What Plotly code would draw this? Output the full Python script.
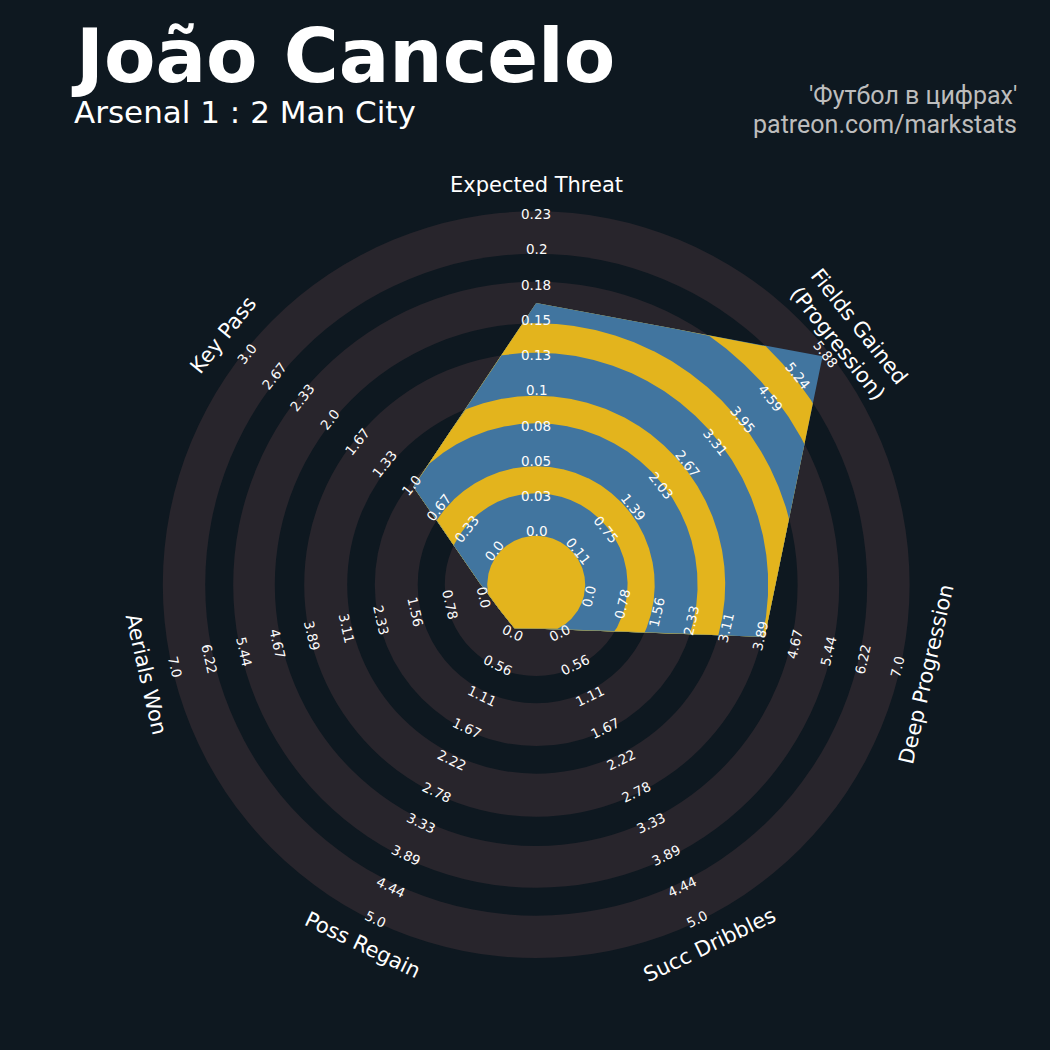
import numpy as np
import plotly.graph_objects as go

# ---------------- data ----------------
params = ["Expected Threat", "Fields Gained<br>(Progression)", "Deep Progression",
          "Succ Dribbles", "Poss Regain", "Aerials Won", "Key Pass"]
values = [0.165, 5.75, 4.0, 0.0, 0.0, 0.0, 1.0]
min_range = [0.0, 0.106, 0.0, 0.0, 0.0, 0.0, 0.0]
max_range = [0.23, 5.877, 7.0, 5.0, 5.0, 7.0, 3.0]

xt_ticks = ["0.0", "0.03", "0.05", "0.08", "0.1", "0.13", "0.15", "0.18", "0.2", "0.23"]
fg_ticks = ["0.11", "0.75", "1.39", "2.03", "2.67", "3.31", "3.95", "4.59", "5.24", "5.88"]
dp_ticks = ["0.0", "0.78", "1.56", "2.33", "3.11", "3.89", "4.67", "5.44", "6.22", "7.0"]
sd_ticks = ["0.0", "0.56", "1.11", "1.67", "2.22", "2.78", "3.33", "3.89", "4.44", "5.0"]
pr_ticks = ["0.0", "0.56", "1.11", "1.67", "2.22", "2.78", "3.33", "3.89", "4.44", "5.0"]
aw_ticks = ["0.0", "0.78", "1.56", "2.33", "3.11", "3.89", "4.67", "5.44", "6.22", "7.0"]
kp_ticks = ["0.0", "0.33", "0.67", "1.0", "1.33", "1.67", "2.0", "2.33", "2.67", "3.0"]
tick_labels = [xt_ticks, fg_ticks, dp_ticks, sd_ticks, pr_ticks, aw_ticks, kp_ticks]

title = "João Cancelo"
subtitle = "Arsenal 1 : 2 Man City"
credit1 = "'Футбол в цифрах'"
credit2 = "patreon.com/markstats"

# ---------------- style / geometry ----------------
BG = "#0e1820"
RING = "#28252c"
BLUE = "#41759f"
GOLD = "#e3b41d"
W = H = 1050
CXP, CYP = 536.2, 584.7          # centre in pixels
CENTER_R = 49.0
OUTER_R = 373.4
BOUNDS = [49.0, 91.4, 118.5, 161.4, 189.0, 232.0, 261.4, 303.0, 331.0, 373.4]
LABEL_R0, LABEL_R1 = 53.5, 370.5
PARAM_R = 400.0

n = len(params)
thetas = np.deg2rad(90 - np.arange(n) * 360.0 / n)

# vertex radii from values through the min/max scale
radii = []
for v, lo, hi in zip(values, min_range, max_range):
    frac = min(max((v - lo) / (hi - lo), 0.0), 1.0)
    radii.append(CENTER_R + frac * (OUTER_R - CENTER_R))
radii = np.array(radii)
vx = radii * np.cos(thetas)
vy = radii * np.sin(thetas)


def clipped_polygon(R, steps=240):
    xs, ys = [], []
    for i in range(n):
        j = (i + 1) % n
        p = np.array([vx[i], vy[i]])
        e = np.array([vx[j] - vx[i], vy[j] - vy[i]])
        t0 = thetas[i]
        angs = t0 - np.linspace(0, 2 * np.pi / n, steps, endpoint=False)
        for a in angs:
            d = np.array([np.cos(a), np.sin(a)])
            cr_de = d[0] * e[1] - d[1] * e[0]
            cr_pe = p[0] * e[1] - p[1] * e[0]
            t = cr_pe / cr_de
            r = min(t, R)
            xs.append(r * np.cos(a))
            ys.append(r * np.sin(a))
    xs.append(xs[0])
    ys.append(ys[0])
    return xs, ys


fig = go.Figure()

# ring background shapes (layered discs)
shapes = []
for k in range(len(BOUNDS) - 1, 0, -1):
    R = BOUNDS[k]
    col = RING if (k % 2 == 1) else BG
    shapes.append(dict(type="circle", xref="x", yref="y", x0=-R, x1=R, y0=-R, y1=R,
                       fillcolor=col, line=dict(width=0), layer="below"))

# radar polygon, striped by ring bands
for k in range(len(BOUNDS) - 1, -1, -1):
    R = BOUNDS[k]
    col = BLUE if (k % 2 == 1) else GOLD
    xs, ys = clipped_polygon(R)
    fig.add_trace(go.Scatter(x=xs, y=ys, mode="lines", fill="toself", fillcolor=col,
                             line=dict(width=0, color=col), hoverinfo="skip",
                             showlegend=False))


def rot_for(theta_deg):
    r = theta_deg - 90
    while r > 90:
        r -= 180
    while r <= -90:
        r += 180
    return -r


annotations = []
label_r = np.linspace(LABEL_R0, LABEL_R1, 10)
for i in range(n):
    tdeg = 90 - i * 360.0 / n
    ang = rot_for(tdeg)
    for k, lab in enumerate(tick_labels[i]):
        annotations.append(dict(
            x=label_r[k] * np.cos(thetas[i]), y=label_r[k] * np.sin(thetas[i]),
            xref="x", yref="y", text=lab, showarrow=False, textangle=ang,
            xanchor="center", yanchor="middle",
            font=dict(family="DejaVu Sans", size=13.5, color="#fcfcfc")))
    annotations.append(dict(
        x=PARAM_R * np.cos(thetas[i]), y=PARAM_R * np.sin(thetas[i]),
        xref="x", yref="y", text=params[i], showarrow=False, textangle=ang,
        xanchor="center", yanchor="middle",
        font=dict(family="DejaVu Sans", size=21, color="#ffffff")))

# titles (paper coordinates)
annotations.append(dict(x=69 / W, y=1 - 56 / H, xref="paper", yref="paper", text=title,
                        showarrow=False, xanchor="left", yanchor="middle",
                        font=dict(family="DejaVu Sans", size=75, color="#ffffff", weight="bold")))
annotations.append(dict(x=72 / W, y=1 - 112 / H, xref="paper", yref="paper", text=subtitle,
                        showarrow=False, xanchor="left", yanchor="middle",
                        font=dict(family="DejaVu Sans", size=31, color="#ffffff")))
annotations.append(dict(x=1019 / W, y=1 - 96 / H, xref="paper", yref="paper", text=credit1,
                        showarrow=False, xanchor="right", yanchor="middle",
                        font=dict(family="Roboto", size=25, color="#bdbdbd")))
annotations.append(dict(x=1019 / W, y=1 - 124 / H, xref="paper", yref="paper", text=credit2,
                        showarrow=False, xanchor="right", yanchor="middle",
                        font=dict(family="Roboto", size=25, color="#bdbdbd")))

fig.update_layout(
    width=W, height=H,
    margin=dict(l=0, r=0, t=0, b=0),
    paper_bgcolor=BG, plot_bgcolor=BG,
    xaxis=dict(range=[-CXP, W - CXP], visible=False, fixedrange=True),
    yaxis=dict(range=[-(H - CYP), CYP], visible=False, fixedrange=True),
    shapes=shapes,
    annotations=annotations,
    showlegend=False,
)

fig.write_html("out.html",
               config={"displayModeBar": False},
               post_script="document.body.style.margin='0';"
                           "document.body.style.overflow='hidden';"
                           "document.body.style.background='" + BG + "';")
